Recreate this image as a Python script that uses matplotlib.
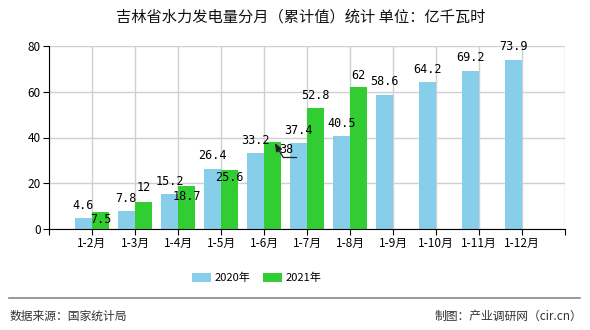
import matplotlib
matplotlib.use("Agg")
import matplotlib.pyplot as plt
import numpy as np

plt.rcParams['font.family'] = ['Noto Sans CJK SC', 'DejaVu Sans']

categories = ["1-2月", "1-3月", "1-4月", "1-5月", "1-6月", "1-7月", "1-8月",
              "1-9月", "1-10月", "1-11月", "1-12月"]
values_2020 = [4.6, 7.8, 15.2, 26.4, 33.2, 37.4, 40.5, 58.6, 64.2, 69.2, 73.9]
values_2021 = [7.5, 12, 18.7, 25.6, 38, 52.8, 62]
label_2020 = ["4.6", "7.8", "15.2", "26.4", "33.2", "37.4", "40.5", "58.6", "64.2", "69.2", "73.9"]
label_2021 = ["7.5", "12", "18.7", "25.6", "38", "52.8", "62"]
series_names = ["2020年", "2021年"]
yticks = [0, 20, 40, 60, 80]

c_blue = "#87CEEB"
c_green = "#32CD32"

fig = plt.figure(figsize=(5.9, 3.3), dpi=100)
ax = fig.add_axes([49/590, 1-229/330, (565-49)/590, (229-46)/330])

x = np.arange(len(categories))
w = 0.4
xb = x - w/2
xg = x[:len(values_2021)] + w/2
ax.bar(xb, values_2020, width=w, color=c_blue, label=series_names[0], zorder=2)
ax.bar(xg, values_2021, width=w, color=c_green, label=series_names[1], zorder=2)

ax.set_xlim(-1, len(categories))
ax.set_ylim(0, 80)
ax.set_xticks(np.arange(-1, len(categories)+1))
ax.set_xticklabels([""] + categories + [""], fontsize=8.5)
ax.set_yticks(yticks)
ax.set_yticklabels([str(v) for v in yticks], fontsize=8.5)
ax.grid(True, color="#d0d0d0", linewidth=1, zorder=0)
for s in ["top", "right"]:
    ax.spines[s].set_visible(False)
ax.spines["left"].set_color("black")
ax.spines["bottom"].set_color("black")
ax.tick_params(axis="both", direction="out", length=4, color="black", pad=2)

num_font = dict(family=['DejaVu Sans Mono'], fontsize=8.5, ha="center", va="center")
for xi, v, t in zip(xb, values_2020, label_2020):
    ax.annotate(t, (xi, v), xytext=(0, 13), textcoords="offset pixels", **num_font)

green_offsets = [-8, 14, -10, -7, None, 13, 12]
for i, (xi, v, t) in enumerate(zip(xg, values_2021, label_2021)):
    off = green_offsets[i]
    if off is None:
        # label moved aside with a leader line pointing at the bar top
        ax.annotate(t, (xi, v), xytext=(14, -7), textcoords="offset pixels", zorder=5, **num_font)
        ax.annotate("", xy=(xi + 0.05, v - 0.4), xytext=(xi + 0.24, v - 6.5), textcoords="data",
                    arrowprops=dict(arrowstyle="-|>,head_length=0.5,head_width=0.2",
                                    color="#222222", lw=0.9, shrinkA=0, shrinkB=0), zorder=5)
        ax.plot([xi + 0.24, xi + 0.55], [v - 6.5, v - 6.5], color="#222222", lw=0.9, zorder=5)
    else:
        ax.annotate(t, (xi, v), xytext=(0, off), textcoords="offset pixels", **num_font)

fig.text(0.51, 1-17/330, "吉林省水力发电量分月（累计值）统计 单位：亿千瓦时",
         ha="center", va="center", fontsize=11, color="#111111")

handles, labels = ax.get_legend_handles_labels()
fig.legend(handles, labels, loc="center", bbox_to_anchor=(0.435, 1-278/330), ncol=2,
           frameon=False, fontsize=8, handlelength=1.7, handleheight=0.8,
           columnspacing=1.2, handletextpad=0.3)

fig.add_artist(plt.Line2D([9/590, 580/590], [1-298/330, 1-298/330], color="#888888", lw=1.2))
fig.text(10/590, 1-316/330, "数据来源：国家统计局", ha="left", va="center", fontsize=8.5, color="#333333")
fig.text(582/590, 1-316/330, "制图：产业调研网（cir.cn）", ha="right", va="center", fontsize=8.5, color="#333333")

fig.savefig("out.png", dpi=100)
